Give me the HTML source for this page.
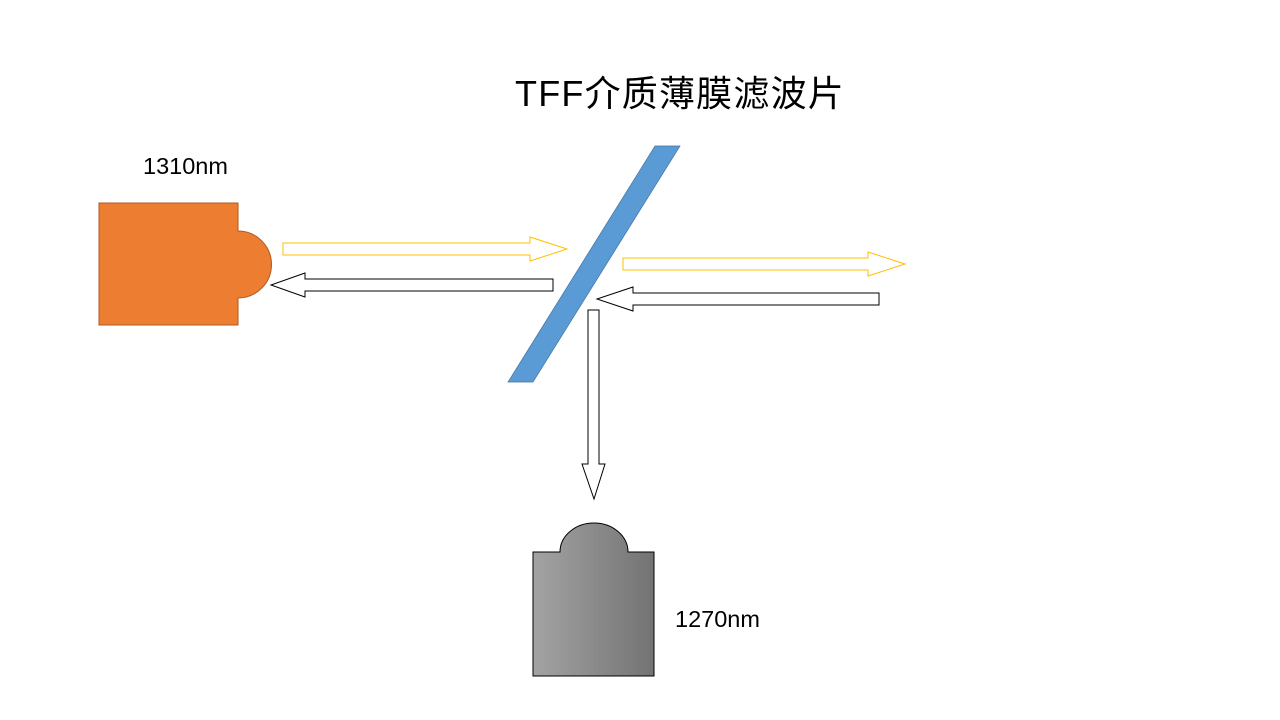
<!DOCTYPE html>
<html><head><meta charset="utf-8"><style>
html,body{margin:0;padding:0;background:#fff;}
svg{display:block;}
</style></head><body>
<svg width="1280" height="720" viewBox="0 0 1280 720" xmlns="http://www.w3.org/2000/svg">
<defs>
<linearGradient id="g" x1="0" x2="1" y1="0" y2="0">
<stop offset="0" stop-color="#a3a3a3"/><stop offset="1" stop-color="#737373"/>
</linearGradient>
</defs>
<text x="515" y="106" font-family="Liberation Sans, Noto Sans CJK SC, sans-serif" font-size="36" letter-spacing="1.2" fill="#000">TFF介质薄膜滤波片</text>
<text x="143" y="174" font-family="Liberation Sans, sans-serif" font-size="23.5" fill="#000">1310nm</text>
<text x="675" y="627" font-family="Liberation Sans, sans-serif" font-size="23.5" fill="#000">1270nm</text>
<path d="M99,203 H238 V231 A33,33 0 0 1 238,298 V325 H99 Z" fill="#ed7d31" stroke="#ae5a21" stroke-width="1"/>
<polygon points="655,146 680,146 533,382 508,382" fill="#5b9bd5" stroke="#41719c" stroke-width="0.7"/>
<polygon points="283,243 530,243 530,237 567,249 530,261 530,255 283,255" fill="#fff" stroke="#ffc000" stroke-width="1"/>
<polygon points="553,279 305,279 305,273 271,285 305,297 305,291 553,291" fill="#fff" stroke="#000" stroke-width="1"/>
<polygon points="623,258 868,258 868,252 905,264 868,276 868,270 623,270" fill="#fff" stroke="#ffc000" stroke-width="1"/>
<polygon points="879,293 633,293 633,287 597,299 633,311 633,305 879,305" fill="#fff" stroke="#000" stroke-width="1"/>
<polygon points="588,310 599,310 599,464 605,464 594,499 582,464 588,464" fill="#fff" stroke="#000" stroke-width="1"/>
<path d="M533,552 H560 A34,29 0 0 1 628,552 H654 V676 H533 Z" fill="url(#g)" stroke="#000" stroke-width="1"/>
</svg>
</body></html>
